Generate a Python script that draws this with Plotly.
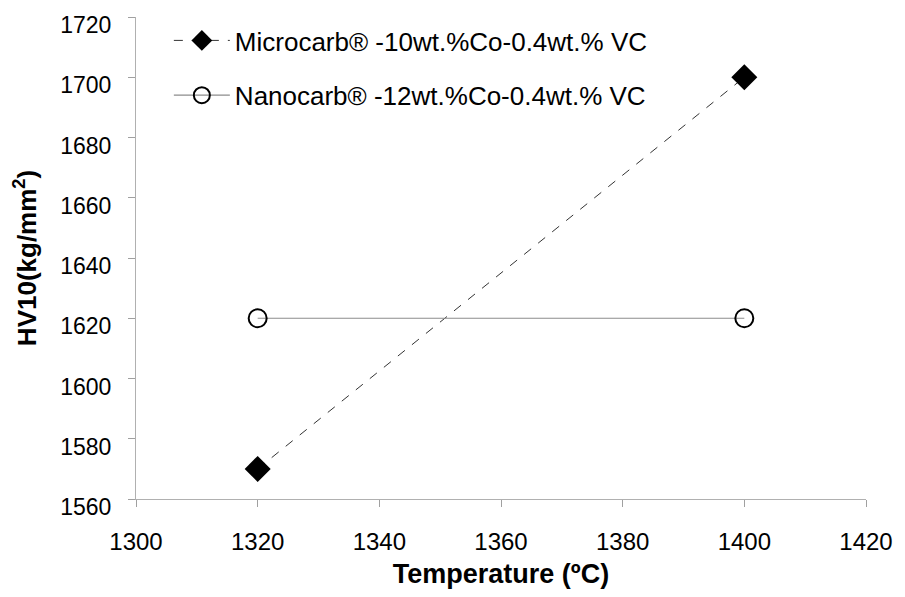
import plotly.graph_objects as go

temps = [1320, 1400]
micro_hv = [1570, 1700]
nano_hv = [1620, 1620]
micro_name = "Microcarb® -10wt.%Co-0.4wt.% VC"
nano_name = "Nanocarb® -12wt.%Co-0.4wt.% VC"
x_ticks = [1300, 1320, 1340, 1360, 1380, 1400, 1420]
y_ticks = [1560, 1580, 1600, 1620, 1640, 1660, 1680, 1700, 1720]

FONT = "Liberation Sans, Arial, sans-serif"

fig = go.Figure()
fig.add_trace(go.Scatter(
    x=temps, y=micro_hv, name=micro_name, mode="lines+markers",
    line=dict(color="#333333", width=1, dash="dash"),
    marker=dict(symbol="diamond", size=20, color="black"),
    legendgroup="a",
))
fig.add_trace(go.Scatter(
    x=temps, y=nano_hv, name=nano_name, mode="lines+markers",
    line=dict(color="#8c8c8c", width=1.2),
    marker=dict(symbol="circle-open", size=18, color="black", line=dict(width=2)),
    legendgroup="b",
))

fig.update_layout(
    width=905, height=597,
    margin=dict(l=136, r=35, t=15, b=98),
    paper_bgcolor="white", plot_bgcolor="white",
    font=dict(family=FONT, size=24, color="black"),
    showlegend=True,
    legend=dict(
        x=0.045, y=1.0, xanchor="left", yanchor="top",
        bgcolor="rgba(0,0,0,0)", font=dict(size=26, family=FONT),
        tracegroupgap=18, itemwidth=56,
    ),
    xaxis=dict(
        range=[1300, 1420], tickvals=x_ticks, ticktext=[str(v) for v in x_ticks],
        showgrid=False, zeroline=False, showline=True, linecolor="#b0b0b0", linewidth=1,
        ticks="outside", ticklen=7, tickcolor="#a0a0a0", ticklabelstandoff=14,
        title=dict(text="<b>Temperature (ºC)</b>", font=dict(size=27, family=FONT), standoff=10),
        tickfont=dict(size=24, family=FONT),
    ),
    yaxis=dict(
        range=[1560, 1720], tickvals=y_ticks, ticktext=[str(v) for v in y_ticks],
        showgrid=False, zeroline=False, showline=True, linecolor="#b0b0b0", linewidth=1,
        ticks="outside", ticklen=7, tickcolor="#a0a0a0", ticklabelstandoff=12,
        ticklabelshift=8,
        title=dict(text="<b>HV10(kg/mm<sup>2</sup>)</b>", font=dict(size=26, family=FONT), standoff=16),
        tickfont=dict(size=23, family=FONT),
    ),
)

fig.write_html("out.html")
